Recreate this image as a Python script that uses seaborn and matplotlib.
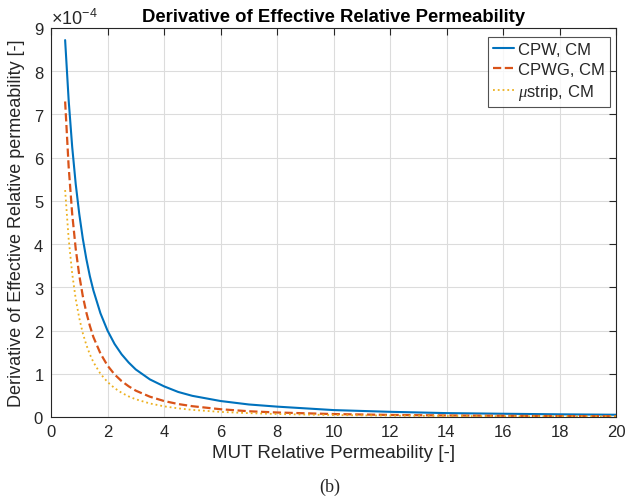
import numpy as np
import pandas as pd
import matplotlib
matplotlib.use("Agg")
import matplotlib.pyplot as plt
import seaborn as sns

# MUT relative permeability (x) and derivative values (in units of 1e-4)
mu_r = [0.5, 0.625, 0.75, 0.875, 1.0, 1.125, 1.25, 1.375, 1.5, 1.75, 2.0, 2.25, 2.5, 2.75,
        3.0, 3.5, 4.0, 4.5, 5.0, 6.0, 7.0, 8.0, 10.0, 12.0, 14.0, 16.0, 18.0, 20.0]
cpw = [8.72, 7.33, 6.25, 5.39, 4.70, 4.13, 3.66, 3.26, 2.93, 2.40, 2.00, 1.69, 1.45, 1.26,
       1.10, 0.87, 0.71, 0.58, 0.49, 0.37, 0.29, 0.24, 0.16, 0.12, 0.09, 0.075, 0.062, 0.052]
cpwg = [7.30, 5.79, 4.70, 3.89, 3.28, 2.80, 2.42, 2.11, 1.85, 1.47, 1.19, 0.985, 0.83, 0.71,
        0.61, 0.47, 0.37, 0.30, 0.25, 0.18, 0.133, 0.104, 0.068, 0.048, 0.036, 0.028, 0.022, 0.018]
ustrip = [5.25, 4.12, 3.32, 2.73, 2.29, 1.94, 1.67, 1.45, 1.27, 1.00, 0.81, 0.668, 0.56, 0.476,
          0.41, 0.313, 0.247, 0.20, 0.165, 0.118, 0.089, 0.069, 0.045, 0.032, 0.024, 0.018, 0.0145, 0.012]

series_names = ["CPW, CM", "CPWG, CM", r"$\mu$strip, CM"]
colors = ["#0072BD", "#D95319", "#EDB120"]

sns.set_style("white")
plt.rcParams['font.family'] = ['Liberation Sans', 'DejaVu Sans']
plt.rcParams['mathtext.fontset'] = 'custom'
plt.rcParams['mathtext.rm'] = 'Liberation Sans'
plt.rcParams['mathtext.it'] = 'Liberation Serif:italic'

df = pd.DataFrame({
    "x": mu_r * 3,
    "y": np.array(cpw + cpwg + ustrip) * 1e-4,
    "s": [series_names[0]] * len(mu_r) + [series_names[1]] * len(mu_r) + [series_names[2]] * len(mu_r),
})

fig = plt.figure(figsize=(6.41, 5.02), dpi=100)
ax = fig.add_axes([51/641, 1 - 418/502, 565/641, 389/502])

styles = ["-", "--", ":"]
widths = [1.5, 1.6, 1.3]
for name, c, ls, lw in zip(series_names, colors, styles, widths):
    sns.lineplot(data=df[df.s == name], x="x", y="y", color=c, linestyle=ls,
                 linewidth=lw, label=name, ax=ax)

ax.set_xlim(0, 20)
ax.set_ylim(0, 9e-4)
ax.set_xticks(np.arange(0, 21, 2))
ax.set_yticks(np.arange(0, 10) * 1e-4)
ax.ticklabel_format(axis='y', style='sci', scilimits=(0, 0), useMathText=True)
ax.yaxis.get_offset_text().set_fontsize(13)
ax.yaxis.get_offset_text().set_color('#262626')

ax.grid(True, color='#dcdcdc', linewidth=0.8)
ax.tick_params(direction='in', top=True, right=True, length=5, width=0.8,
               labelsize=12, colors='#262626', pad=5)
for sp in ax.spines.values():
    sp.set_color('#262626')
    sp.set_linewidth(0.8)

ax.set_xlabel("MUT Relative Permeability [-]", fontsize=13.5, color='#262626', labelpad=4)
ax.set_ylabel("Derivative of Effective Relative permeability [-]", fontsize=13,
              color='#262626', labelpad=6)
ax.set_title("Derivative of Effective Relative Permeability", fontsize=13.3,
             fontweight='bold', color='black', pad=5)

leg = ax.legend(loc='upper right', bbox_to_anchor=(1 - 6/565, 1 - 9/389),
                fontsize=12, frameon=True, fancybox=False,
                handlelength=1.25, borderpad=0.3, labelspacing=0.3, handletextpad=0.25,
                borderaxespad=0)
leg.get_frame().set_edgecolor('#262626')
leg.get_frame().set_linewidth(0.8)

fig.text(0.515, 1 - 487/502, "(b)", fontsize=13, family='Liberation Serif',
         ha='center', va='center')

fig.savefig("out.png", dpi=100)
